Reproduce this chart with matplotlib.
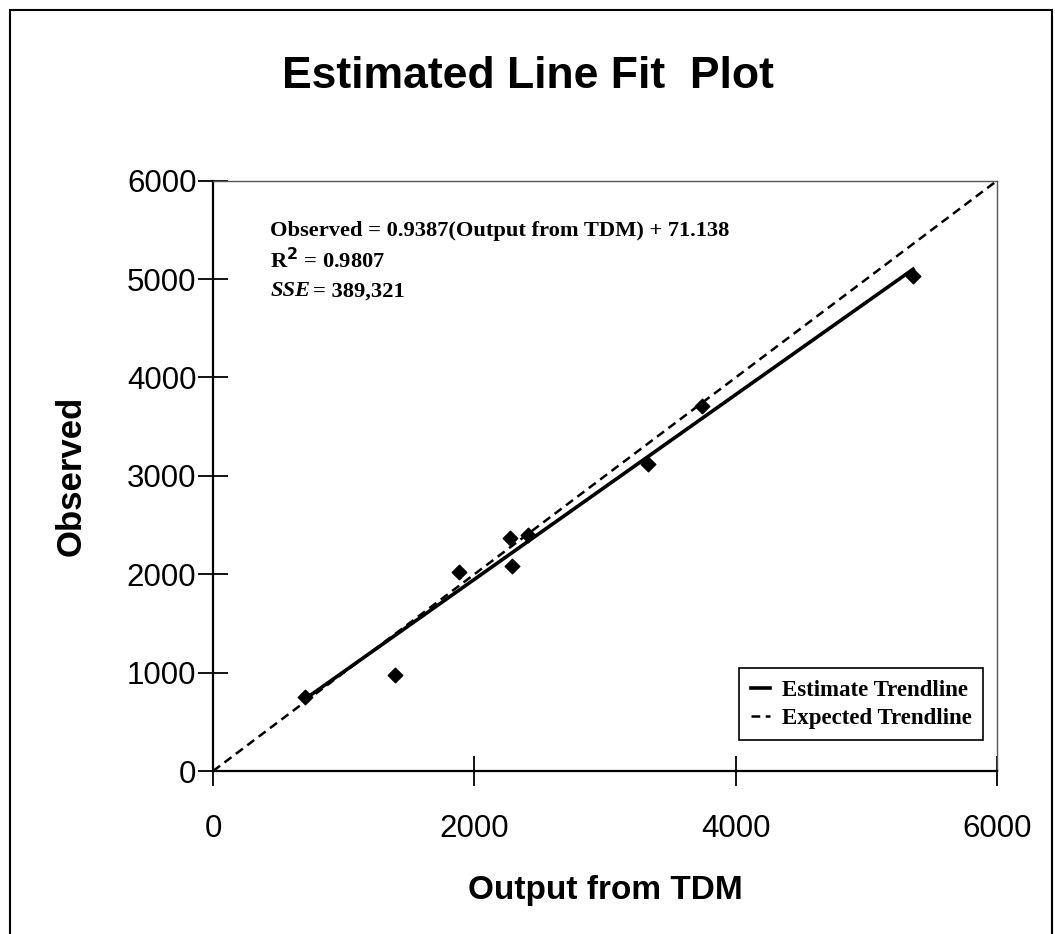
import matplotlib
matplotlib.use("Agg")
import matplotlib.pyplot as plt
from matplotlib.patches import Rectangle
import numpy as np

# values
output_tdm = [704, 1393, 1884, 2272, 2288, 2412, 3331, 3739, 5358]
observed = [753, 977, 2021, 2373, 2082, 2400, 3120, 3706, 5028]

slope = 0.9387
intercept = 71.138
expected_x = [0, 6000]
ticks = [0, 2000, 4000, 6000]
yticks = [0, 1000, 2000, 3000, 4000, 5000, 6000]

fig = plt.figure(figsize=(10.55, 9.34), dpi=100)
ax = fig.add_axes([0.202, 0.1745, 0.743, 0.632])

ax.scatter(output_tdm, observed, marker="D", s=55, color="black", zorder=3)

fit_x = np.array([min(output_tdm), max(output_tdm)])
ax.plot(fit_x, slope * fit_x + intercept, color="black", lw=2.6,
        label="Estimate Trendline")
ax.plot(expected_x, expected_x, color="black", lw=1.8, dashes=(3.5, 2.2),
        label="Expected Trendline")

ax.set_xlim(0, 6000)
ax.set_ylim(0, 6000)
ax.set_xticks(ticks)
ax.set_yticks(yticks)
ax.tick_params(direction="inout", length=22, width=1.3, labelsize=22.5)
ax.tick_params(axis="y", pad=1)
ax.tick_params(axis="x", pad=20)
for lab in ax.get_xticklabels() + ax.get_yticklabels():
    lab.set_family("Liberation Sans")

for side in ["left", "bottom"]:
    ax.spines[side].set_linewidth(1.6)
for side in ["top", "right"]:
    ax.spines[side].set_linestyle((0, (1, 1)))
    ax.spines[side].set_color("#555555")
    ax.spines[side].set_linewidth(1.0)

ax.set_xlabel("Output from TDM", fontsize=24, fontweight="bold",
              family="Liberation Sans", labelpad=22)
ax.set_ylabel("Observed", fontsize=25, fontweight="bold",
              family="Liberation Sans", labelpad=28)

fig.text(0.5, 0.918, "Estimated Line Fit  Plot", ha="center", va="center",
         fontsize=32, fontweight="bold", family="Liberation Sans")

serif = dict(family="Liberation Serif", fontweight="bold", fontsize=16.2)
ax.text(0.073, 0.915, "Observed = 0.9387(Output from TDM) + 71.138",
        transform=ax.transAxes, va="center", **serif)
ax.text(0.073, 0.864, r"R$^\mathbf{2}$ = 0.9807", transform=ax.transAxes,
        va="center", **serif)
ax.text(0.073, 0.813, "SSE", transform=ax.transAxes, va="center",
        fontstyle="italic", **serif)
ax.text(0.127, 0.813, "= 389,321", transform=ax.transAxes, va="center",
        **serif)

leg = ax.legend(loc="lower right", bbox_to_anchor=(0.982, 0.0525),
                borderaxespad=0, fancybox=False, edgecolor="black",
                framealpha=1, handlelength=0.85, handletextpad=0.5,
                borderpad=0.5, labelspacing=0.3,
                prop={"family": "Liberation Serif", "weight": "bold",
                      "size": 16.5})
leg.get_frame().set_linewidth(1.2)

fig.patches.append(Rectangle((0.0095, -0.02), 0.988, 1.0093,
                             transform=fig.transFigure, fill=False,
                             edgecolor="black", lw=1.5))

fig.savefig("out.png", dpi=100)
